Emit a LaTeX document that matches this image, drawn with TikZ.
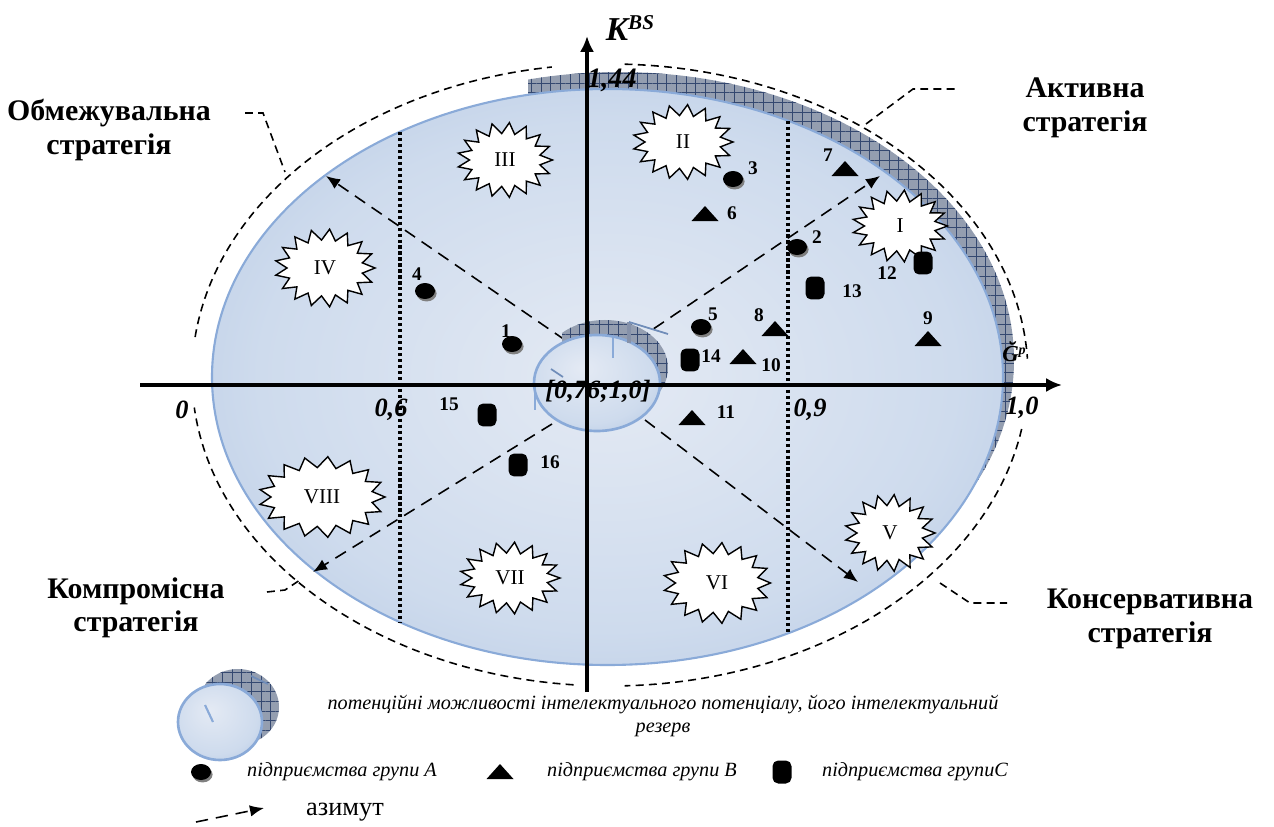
\documentclass[tikz,border=0pt]{standalone}
\usepackage{fontspec}
\setmainfont{Liberation Serif}
\usetikzlibrary{arrows.meta,shapes.geometric,shadows,patterns.meta}
\definecolor{ellin}{RGB}{228,234,244}
\definecolor{ellmid}{RGB}{206,219,237}
\definecolor{ellout}{RGB}{152,178,216}
\definecolor{ellrim}{RGB}{138,170,216}
\definecolor{hatchbg}{RGB}{148,158,176}
\definecolor{hatchln}{RGB}{52,72,112}
\pgfdeclareradialshading{ellfill}{\pgfpoint{0bp}{0bp}}{color(0bp)=(ellin); color(22bp)=(ellmid); color(50bp)=(ellout)}
\pgfdeclareradialshading{potfill}{\pgfpoint{-6bp}{8bp}}{color(0bp)=(ellin); color(25bp)=(ellmid); color(50bp)=(ellout)}

\begin{document}
\begin{tikzpicture}[x=0.02cm, y=-0.02cm,
    axis/.style={line width=2.3pt, -{Latex[length=9pt,width=8pt]}},
    bound/.style={line width=0.9pt, dash pattern=on 4.5pt off 3pt},
    azim/.style={line width=0.9pt, dash pattern=on 7pt off 4.5pt, -{Latex[length=8pt,width=6.5pt]}},
    sector/.style={line width=1.8pt, dash pattern=on 1.8pt off 1.6pt},
    hatched/.style={preaction={fill=hatchbg}, pattern={Hatch[distance=5.5pt,angle=0,line width=0.45pt]}, pattern color=hatchln},
    zone/.style={draw, fill=white, line width=0.8pt, line join=miter},
    zlab/.style={font=\fontsize{12}{12}\selectfont},
    grpA/.style={ellipse, fill=black, inner sep=0, minimum width=0.4cm, minimum height=0.32cm,
      drop shadow={shadow xshift=0.9pt, shadow yshift=-1.4pt, fill=gray, opacity=1}},
    grpB/.style={isosceles triangle, isosceles triangle stretches=true, shape border rotate=90,
      fill=black, inner sep=0, minimum width=0.54cm, minimum height=0.3cm},
    grpC/.style={rectangle, rounded corners=3.2pt, fill=black, inner sep=0,
      minimum width=0.38cm, minimum height=0.46cm},
    num/.style={font=\fontsize{11}{11}\selectfont\bfseries},
    axlab/.style={font=\fontsize{15}{15}\selectfont\bfseries\itshape},
    strat/.style={align=center, font=\fontsize{17}{19}\selectfont\bfseries},
    legtxt/.style={font=\fontsize{11.5}{13.5}\selectfont\itshape}]
  \useasboundingbox (0,0) rectangle (1274,827);

  % reserve ring behind the field
  \begin{scope}
    \clip (528,40) rectangle (1100,540);
    \fill[hatched] (618.5,360) ellipse [x radius=395.5, y radius=288];
  \end{scope}
  \shadedraw[shading=ellfill, draw=ellrim, line width=1.2pt] (607.5,377) ellipse [x radius=395.5, y radius=288];

  % sector borders
  \draw[sector] (400,132) -- (400,622);
  \draw[sector] (788,121) -- (788,633);

  % azimuths
  \coordinate (ul0) at (565,340); \coordinate (ul1) at (326,176);
  \coordinate (ur0) at (637,340); \coordinate (ur1) at (880,176);
  \coordinate (lr0) at (645,420); \coordinate (lr1) at (858,582);
  \coordinate (ll0) at (552,424); \coordinate (ll1) at (313,572);
  \draw[azim] (ul0) -- (ul1);
  \draw[azim] (ur0) -- (ur1);
  \draw[azim] (lr0) -- (lr1);
  \draw[azim] (ll0) -- (ll1);

  % potential in the centre
  \begin{scope}
    \clip (562,300) rectangle (700,450);
    \fill[hatched] (605,368) ellipse [x radius=63, y radius=48];
  \end{scope}
  \shadedraw[shading=potfill, draw=ellrim, line width=1.5pt] (597,383) ellipse [x radius=63, y radius=48];
  \draw[ellrim, line width=1.5pt] (613,337) -- (613,358);
  \draw[hatchln!60, line width=2pt] (629,322) -- (629,343);
  \draw[ellrim!70!hatchln, line width=1pt] (629,322) -- (668,334);
  \draw[ellrim!70!hatchln, line width=1pt] (551,369) -- (563,377);
  \draw[ellrim, line width=1.5pt] (535,383) -- (535,410);

  % axes
  \coordinate (x0) at (140,385); \coordinate (x1) at (1062,385);
  \coordinate (y0) at (587,692); \coordinate (y1) at (587,36);
  \draw[axis] (x0) -- (x1);
  \draw[axis] (y0) -- (y1);
  \node (kbs) at (630,28) {\bfseries\itshape{\fontsize{19}{19}\selectfont K}\raisebox{6.5pt}{\fontsize{12}{12}\selectfont BS}};
  \node[axlab, font=\fontsize{16}{16}\selectfont\bfseries\itshape] (t144) at (612,80) {1,44};
  \node[axlab] (t0) at (182,410) {0};
  \node[axlab] (t06) at (391,410) {0,6};
  \node[axlab] (tc) at (598,391) {[0,76;1,0]};
  \node[axlab] (t09) at (810,410) {0,9};
  \node[axlab] (t10) at (1022,408) {1,0};
  \node (tg) at (1014,352) {\bfseries\itshape{\fontsize{13}{13}\selectfont Ğ}\raisebox{4pt}{\fontsize{8}{8}\selectfont p}};

  % zones
  \foreach \zn/\zx/\zy/\zw/\zh in {I/900/226/47.5/36, II/683/142/50/37.5, III/505/160/47.5/37.5,
      IV/325/268/50/39, V/890/533/45/38.5, VI/717/583/53.5/40.5, VII/510/578/50/36, VIII/322/497/63/40.5} {
    \draw[zone] plot[domain=0:34, samples=35, variable=\k]
      ({\zx+(\zw-12*mod(\k,2))*cos(\k*360/34)}, {\zy+(\zh-11*mod(\k,2))*sin(\k*360/34)}) -- cycle;
    \node[zlab] (z\zn) at (\zx,\zy) {\zn};
  }

  % enterprises
  \node[grpA] (a1) at (512,344) {};
  \node[grpA] (a2) at (797,247) {};
  \node[grpA] (a3) at (733,179) {};
  \node[grpA] (a4) at (425,291) {};
  \node[grpA] (a5) at (701,327) {};
  \node[grpB] (b6) at (705,215) {};
  \node[grpB] (b7) at (845,170) {};
  \node[grpB] (b8) at (775,330) {};
  \node[grpB] (b9) at (928,340) {};
  \node[grpB] (b10) at (743,358) {};
  \node[grpB] (b11) at (692,419) {};
  \node[grpC] (c12) at (923,263) {};
  \node[grpC] (c13) at (815,288) {};
  \node[grpC] (c14) at (690,360) {};
  \node[grpC] (c15) at (487,415) {};
  \node[grpC] (c16) at (518,465) {};
  \node[num] (n1) at (506,331) {1};
  \node[num] (n2) at (817,237) {2};
  \node[num] (n3) at (753,168) {3};
  \node[num] (n4) at (417,274) {4};
  \node[num] (n5) at (713,314) {5};
  \node[num] (n6) at (732,213) {6};
  \node[num] (n7) at (828,155) {7};
  \node[num] (n8) at (759,315) {8};
  \node[num] (n9) at (928,318) {9};
  \node[num] (n10) at (771,365) {10};
  \node[num] (n11) at (726,412) {11};
  \node[num] (n12) at (887,273) {12};
  \node[num] (n13) at (852,291) {13};
  \node[num] (n14) at (711,356) {14};
  \node[num] (n15) at (449,404) {15};
  \node[num] (n16) at (550,462) {16};

  % strategy bounds
  \draw[bound] (610,375) ++(-88:418 and 311) arc[start angle=-88, end angle=-3, x radius=418, y radius=311];
  \draw[bound] (610,375) ++(10:418 and 311) arc[start angle=10, end angle=88, x radius=418, y radius=311];
  \draw[bound] (610,375) ++(95:418 and 311) arc[start angle=95, end angle=174, x radius=418, y radius=311];
  \draw[bound] (610,375) ++(187:418 and 311) arc[start angle=187, end angle=262, x radius=418, y radius=311];
  \node[strat] (sR) at (109,130) {Обмежувальна\\стратегія};
  \node[strat] (sA) at (1085,108) {Активна\\стратегія};
  \node[strat] (sK) at (136,608) {Компромісна\\стратегія};
  \node[strat] (sC) at (1150,619) {Консервативна\\стратегія};
  \coordinate (pR) at (285,172); \coordinate (pA) at (866,124);
  \coordinate (pK) at (300,580); \coordinate (pC) at (940,583);
  \draw[bound] (245,113) -- (263,113) -- (pR);
  \draw[bound] (pA) -- (913,89) -- (955,89);
  \draw[bound] (267,592) -- (285,590) -- (pK);
  \draw[bound] (pC) -- (970,603) -- (1007,603);

  % legend
  \begin{scope}
    \clip (205,660) rectangle (290,750);
    \fill[hatched] (238,707) ellipse [x radius=41, y radius=38];
  \end{scope}
  \shadedraw[shading=potfill, draw=ellrim, line width=1.5pt] (220,722) ellipse [x radius=42, y radius=38];
  \draw[ellrim, line width=1.2pt] (205,705) -- (213,722);
  \draw[ellrim!70!hatchln, line width=1pt] (251,676) -- (268,684);
  \node[legtxt, align=center] (lpot) at (663,716) {потенційні можливості інтелектуального потенціалу, його інтелектуальний\\резерв};
  \node[grpA] (la) at (201,772) {};
  \node[legtxt] (lat) at (342,772) {підприємства групи А};
  \node[grpB] (lb) at (500,773) {};
  \node[legtxt] (lbt) at (642,772) {підприємства групи В};
  \node[grpC] (lc) at (782,772) {};
  \node[legtxt] (lct) at (915,772) {підприємства групиС};
  \coordinate (az0) at (196,822); \coordinate (az1) at (264,808);
  \draw[azim] (az0) -- (az1);
  \node[font=\fontsize{15}{15}\selectfont] (laz) at (345,812) {азимут};
\end{tikzpicture}
\end{document}
